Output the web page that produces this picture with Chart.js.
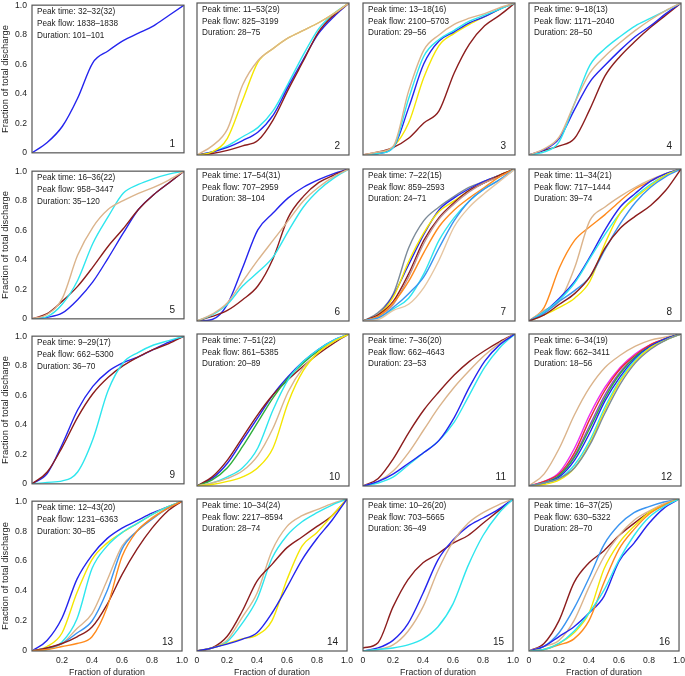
<!DOCTYPE html>
<html>
<head>
<meta charset="utf-8">
<script src="https://cdn.jsdelivr.net/npm/chart.js@4.4.0/dist/chart.umd.min.js"></script>
<style>
  body { margin: 0; background: #fff; width: 685px; height: 676px; position: relative; overflow: hidden; }
  canvas { position: absolute; }
</style>
</head>
<body>
<script>
// ===== 데이터 =====
const fracDuration = [0, 0.1, 0.2, 0.3, 0.4, 0.5, 0.6, 0.7, 0.8, 0.9, 1];
const axisTicks = [0, 0.2, 0.4, 0.6, 0.8, 1.0];

const peakTimes = ['32–32(32)', '11–53(29)', '13–18(16)', '9–18(13)', '16–36(22)', '17–54(31)', '7–22(15)', '11–34(21)',
                   '9–29(17)', '7–51(22)', '7–36(20)', '6–34(19)', '12–43(20)', '10–34(24)', '10–26(20)', '16–37(25)'];
const peakFlows = ['1838–1838', '825–3199', '2100–5703', '1171–2040', '958–3447', '707–2959', '859–2593', '717–1444',
                   '662–5300', '861–5385', '662–4643', '662–3411', '1231–6363', '2217–8594', '703–5665', '630–5322'];
const durations = ['101–101', '28–75', '29–56', '28–50', '35–120', '38–104', '24–71', '39–74',
                   '36–70', '20–89', '23–53', '18–56', '30–85', '28–74', '36–49', '28–70'];

const p1Values = [
    [0, 0.07, 0.18, 0.37, 0.61, 0.69, 0.76, 0.81, 0.86, 0.93, 1]
];
const p1Colors = ['blue'];

const p2Values = [
    [0, 0.06, 0.17, 0.46, 0.62, 0.70, 0.77, 0.82, 0.87, 0.93, 1],
    [0, 0.02, 0.11, 0.36, 0.61, 0.70, 0.77, 0.82, 0.87, 0.93, 1],
    [0, 0.01, 0.03, 0.06, 0.095, 0.23, 0.43, 0.62, 0.81, 0.92, 1],
    [0, 0.02, 0.05, 0.095, 0.15, 0.26, 0.45, 0.63, 0.80, 0.91, 1],
    [0, 0.02, 0.06, 0.12, 0.18, 0.29, 0.47, 0.66, 0.83, 0.93, 1]
];
const p2Colors = ['tan', 'yellow', 'brown', 'blue', 'cyan'];

const p3Values = [
    [0, 0.02, 0.06, 0.42, 0.69, 0.79, 0.86, 0.90, 0.93, 0.97, 1],
    [0, 0.01, 0.05, 0.37, 0.65, 0.76, 0.82, 0.88, 0.92, 0.96, 1],
    [0, 0.01, 0.05, 0.31, 0.60, 0.75, 0.81, 0.87, 0.91, 0.96, 1],
    [0, 0.01, 0.055, 0.21, 0.51, 0.72, 0.80, 0.86, 0.91, 0.96, 1],
    [0, 0.02, 0.05, 0.11, 0.21, 0.29, 0.54, 0.73, 0.85, 0.92, 1]
];
const p3Colors = ['tan', 'cyan', 'blue', 'yellow', 'brown'];

const p4Values = [
    [0, 0.04, 0.12, 0.34, 0.54, 0.65, 0.74, 0.82, 0.89, 0.95, 1],
    [0, 0.02, 0.09, 0.34, 0.59, 0.70, 0.78, 0.85, 0.90, 0.95, 1],
    [0, 0.035, 0.11, 0.30, 0.48, 0.59, 0.69, 0.78, 0.85, 0.93, 1],
    [0, 0.03, 0.06, 0.11, 0.30, 0.52, 0.65, 0.75, 0.84, 0.92, 1]
];
const p4Colors = ['tan', 'cyan', 'blue', 'brown'];

const p5Values = [
    [0, 0.03, 0.14, 0.43, 0.62, 0.74, 0.80, 0.85, 0.89, 0.94, 1],
    [0, 0.015, 0.10, 0.26, 0.51, 0.69, 0.85, 0.91, 0.95, 0.98, 1],
    [0, 0.035, 0.12, 0.22, 0.35, 0.49, 0.61, 0.74, 0.84, 0.92, 1],
    [0, 0.01, 0.04, 0.13, 0.25, 0.41, 0.58, 0.74, 0.84, 0.92, 1]
];
const p5Colors = ['tan', 'cyan', 'brown', 'blue'];

const p6Values = [
    [0, 0.045, 0.12, 0.26, 0.40, 0.53, 0.66, 0.79, 0.88, 0.95, 1],
    [0, 0.04, 0.11, 0.23, 0.32, 0.42, 0.59, 0.75, 0.86, 0.94, 1],
    [0, 0.03, 0.07, 0.14, 0.23, 0.41, 0.68, 0.82, 0.91, 0.96, 1],
    [0, 0.01, 0.11, 0.35, 0.60, 0.71, 0.81, 0.88, 0.93, 0.97, 1]
];
const p6Colors = ['tan', 'cyan', 'brown', 'blue'];

const p7Values = [
    [0, 0.01, 0.07, 0.11, 0.22, 0.40, 0.62, 0.75, 0.84, 0.92, 1],
    [0, 0.02, 0.09, 0.18, 0.29, 0.48, 0.66, 0.79, 0.87, 0.93, 1],
    [0, 0.02, 0.08, 0.15, 0.31, 0.53, 0.68, 0.79, 0.87, 0.93, 1],
    [0, 0.03, 0.12, 0.26, 0.45, 0.62, 0.73, 0.81, 0.88, 0.95, 1],
    [0, 0.03, 0.11, 0.29, 0.51, 0.67, 0.77, 0.85, 0.91, 0.95, 1],
    [0, 0.04, 0.13, 0.31, 0.53, 0.68, 0.78, 0.86, 0.91, 0.96, 1],
    [0, 0.04, 0.16, 0.39, 0.58, 0.72, 0.79, 0.86, 0.91, 0.96, 1],
    [0, 0.04, 0.17, 0.37, 0.57, 0.73, 0.81, 0.87, 0.92, 0.96, 1],
    [0, 0.055, 0.18, 0.48, 0.66, 0.75, 0.82, 0.88, 0.92, 0.96, 1]
];
const p7Colors = ['lightTan', 'dodger', 'cyan', 'orange', 'rosy', 'brown', 'yellow', 'blue', 'gray'];

const p8Values = [
    [0, 0.04, 0.11, 0.18, 0.29, 0.48, 0.61, 0.69, 0.76, 0.86, 1],
    [0, 0.05, 0.13, 0.20, 0.29, 0.47, 0.64, 0.78, 0.88, 0.95, 1],
    [0, 0.04, 0.09, 0.15, 0.26, 0.51, 0.71, 0.81, 0.89, 0.96, 1],
    [0, 0.06, 0.14, 0.25, 0.41, 0.57, 0.71, 0.82, 0.90, 0.96, 1],
    [0, 0.06, 0.15, 0.26, 0.42, 0.60, 0.75, 0.84, 0.92, 0.97, 1],
    [0, 0.07, 0.13, 0.35, 0.66, 0.75, 0.82, 0.88, 0.93, 0.97, 1],
    [0, 0.09, 0.35, 0.53, 0.62, 0.70, 0.79, 0.87, 0.92, 0.97, 1]
];
const p8Colors = ['brown', 'dodger', 'yellow', 'cyan', 'blue', 'tan', 'orange'];

const p9Values = [
    [0, 0.01, 0.02, 0.08, 0.30, 0.63, 0.82, 0.89, 0.94, 0.97, 1],
    [0, 0.08, 0.25, 0.45, 0.61, 0.72, 0.80, 0.86, 0.91, 0.95, 1],
    [0, 0.07, 0.27, 0.50, 0.66, 0.76, 0.82, 0.86, 0.91, 0.96, 1]
];
const p9Colors = ['cyan', 'brown', 'blue'];

const p10Values = [
    [0, 0.01, 0.03, 0.06, 0.12, 0.25, 0.55, 0.76, 0.88, 0.95, 1],
    [0, 0.02, 0.05, 0.10, 0.20, 0.38, 0.62, 0.78, 0.88, 0.95, 1],
    [0, 0.02, 0.06, 0.12, 0.25, 0.50, 0.70, 0.82, 0.90, 0.96, 1],
    [0, 0.04, 0.12, 0.26, 0.42, 0.58, 0.71, 0.81, 0.89, 0.95, 1],
    [0, 0.06, 0.17, 0.32, 0.47, 0.60, 0.70, 0.79, 0.87, 0.94, 1],
    [0, 0.05, 0.15, 0.30, 0.45, 0.60, 0.72, 0.82, 0.90, 0.96, 1]
];
const p10Colors = ['yellow', 'tan', 'cyan', 'green', 'brown', 'blue'];

const p11Values = [
    [0, 0.03, 0.08, 0.15, 0.22, 0.30, 0.45, 0.65, 0.82, 0.93, 1],
    [0, 0.02, 0.06, 0.14, 0.22, 0.30, 0.42, 0.60, 0.78, 0.91, 1],
    [0, 0.03, 0.10, 0.22, 0.37, 0.52, 0.65, 0.76, 0.86, 0.94, 1],
    [0, 0.05, 0.18, 0.35, 0.50, 0.62, 0.73, 0.82, 0.89, 0.95, 1]
];
const p11Colors = ['blue', 'cyan', 'tan', 'brown'];

const p12Values = [
    [0, 0.02, 0.05, 0.12, 0.27, 0.48, 0.67, 0.81, 0.90, 0.96, 1],
    [0, 0.01, 0.04, 0.12, 0.28, 0.50, 0.69, 0.82, 0.91, 0.96, 1],
    [0, 0.02, 0.05, 0.14, 0.30, 0.52, 0.70, 0.83, 0.91, 0.96, 1],
    [0, 0.02, 0.06, 0.17, 0.35, 0.56, 0.72, 0.84, 0.92, 0.97, 1],
    [0, 0.02, 0.07, 0.19, 0.38, 0.58, 0.74, 0.85, 0.92, 0.97, 1],
    [0, 0.02, 0.07, 0.20, 0.40, 0.60, 0.75, 0.85, 0.92, 0.97, 1],
    [0, 0.03, 0.08, 0.22, 0.44, 0.63, 0.77, 0.86, 0.93, 0.97, 1],
    [0, 0.03, 0.09, 0.25, 0.47, 0.65, 0.78, 0.87, 0.93, 0.97, 1],
    [0, 0.08, 0.25, 0.47, 0.65, 0.78, 0.86, 0.92, 0.96, 0.98, 1]
];
const p12Colors = ['gray', 'yellow', 'cyan', 'blue', 'green', 'purple', 'red', 'magenta', 'tan'];

const p13Values = [
    [0, 0.01, 0.03, 0.05, 0.095, 0.29, 0.63, 0.80, 0.885, 0.95, 1],
    [0, 0.02, 0.05, 0.095, 0.16, 0.31, 0.51, 0.68, 0.82, 0.93, 1],
    [0, 0.02, 0.05, 0.12, 0.20, 0.40, 0.68, 0.80, 0.88, 0.95, 1],
    [0, 0.02, 0.05, 0.15, 0.25, 0.47, 0.70, 0.80, 0.89, 0.95, 1],
    [0, 0.01, 0.06, 0.215, 0.55, 0.70, 0.79, 0.85, 0.91, 0.96, 1],
    [0, 0.03, 0.12, 0.39, 0.61, 0.72, 0.79, 0.85, 0.91, 0.96, 1],
    [0, 0.07, 0.22, 0.48, 0.64, 0.75, 0.82, 0.87, 0.92, 0.96, 1]
];
const p13Colors = ['orange', 'brown', 'dodger', 'tan', 'cyan', 'yellow', 'blue'];

const p14Values = [
    [0, 0.02, 0.045, 0.077, 0.12, 0.25, 0.42, 0.60, 0.74, 0.86, 1],
    [0, 0.02, 0.05, 0.08, 0.105, 0.20, 0.47, 0.69, 0.78, 0.89, 1],
    [0, 0.02, 0.095, 0.26, 0.46, 0.57, 0.68, 0.75, 0.82, 0.89, 1],
    [0, 0.02, 0.06, 0.18, 0.34, 0.61, 0.76, 0.85, 0.91, 0.96, 1],
    [0, 0.02, 0.07, 0.22, 0.38, 0.66, 0.82, 0.89, 0.93, 0.97, 1]
];
const p14Colors = ['blue', 'yellow', 'brown', 'cyan', 'tan'];

const p15Values = [
    [0, 0.01, 0.02, 0.04, 0.08, 0.16, 0.31, 0.56, 0.76, 0.90, 1],
    [0, 0.01, 0.04, 0.13, 0.29, 0.53, 0.72, 0.84, 0.91, 0.96, 1],
    [0, 0.02, 0.07, 0.18, 0.38, 0.60, 0.73, 0.82, 0.875, 0.93, 1],
    [0.02, 0.055, 0.29, 0.47, 0.58, 0.64, 0.71, 0.76, 0.84, 0.92, 1]
];
const p15Colors = ['cyan', 'tan', 'blue', 'brown'];

const p16Values = [
    [0, 0.01, 0.05, 0.13, 0.25, 0.40, 0.60, 0.76, 0.88, 0.95, 1],
    [0, 0.01, 0.04, 0.08, 0.20, 0.45, 0.67, 0.80, 0.90, 0.96, 1],
    [0, 0.01, 0.05, 0.12, 0.25, 0.54, 0.71, 0.82, 0.91, 0.96, 1],
    [0, 0.03, 0.095, 0.16, 0.25, 0.36, 0.59, 0.71, 0.84, 0.94, 1],
    [0, 0.03, 0.07, 0.20, 0.42, 0.62, 0.76, 0.86, 0.92, 0.97, 1],
    [0, 0.03, 0.12, 0.28, 0.48, 0.70, 0.83, 0.91, 0.95, 0.98, 1],
    [0, 0.05, 0.20, 0.45, 0.58, 0.66, 0.76, 0.84, 0.91, 0.96, 1]
];
const p16Colors = ['cyan', 'orange', 'yellow', 'blue', 'tan', 'dodger', 'brown'];

// ===== 스타일 =====
const COLORS = {
    blue: '#2424ee', cyan: '#2ee6ee', yellow: '#f4e600', tan: '#dbb48c', brown: '#8c1d1d',
    orange: '#ff8a1c', dodger: '#3a94f0', gray: '#7b8a98', rosy: '#c09090', green: '#2eae3a',
    magenta: '#ee2aee', red: '#e62e2e', purple: '#9440c8', lightTan: '#e6c6a2'
};
const FONT = '"Liberation Sans", Arial, sans-serif';

const COL_X = [32, 197, 363, 529];
const ROW_Y = [3, 169, 334, 499];
const PW = 152, PH = 152;
const AXIS_L = 32, PAD = 8, X_AXIS_H = 28;

const panels = [
    [p1Values, p1Colors], [p2Values, p2Colors], [p3Values, p3Colors], [p4Values, p4Colors],
    [p5Values, p5Colors], [p6Values, p6Colors], [p7Values, p7Colors], [p8Values, p8Colors],
    [p9Values, p9Colors], [p10Values, p10Colors], [p11Values, p11Colors], [p12Values, p12Colors],
    [p13Values, p13Colors], [p14Values, p14Colors], [p15Values, p15Colors], [p16Values, p16Colors]
];

function fmtTick(v) {
    return Math.abs(v) < 1e-9 ? '0' : v.toFixed(1);
}

// 패널 테두리 + 주석 텍스트
const panelDeco = {
    id: 'panelDeco',
    afterDatasetsDraw(chart, args, opts) {
        const a = chart.chartArea, ctx = chart.ctx;
        ctx.save();
        ctx.strokeStyle = '#555';
        ctx.lineWidth = 1.2;
        ctx.strokeRect(a.left, a.top, a.right - a.left, a.bottom - a.top);
        ctx.fillStyle = '#222';
        ctx.textBaseline = 'middle';
        ctx.textAlign = 'left';
        ctx.font = '8.2px ' + FONT;
        opts.lines.forEach(function (t, i) { ctx.fillText(t, a.left + 5, a.top + 7 + i * 11.6); });
        ctx.font = '10px ' + FONT;
        ctx.textAlign = 'right';
        ctx.fillText(opts.num, a.right - 9, a.bottom - 9);
        ctx.restore();
    }
};

panels.forEach(function (p, idx) {
    const values = p[0], colors = p[1];
    const col = idx % 4, row = Math.floor(idx / 4);
    const isBottom = row === 3, isLeft = col === 0;

    const canvas = document.createElement('canvas');
    canvas.width = AXIS_L + PW + PAD;
    canvas.height = PAD + PH + (isBottom ? X_AXIS_H : PAD);
    canvas.style.left = (COL_X[col] - AXIS_L) + 'px';
    canvas.style.top = (ROW_Y[row] - PAD) + 'px';
    document.body.appendChild(canvas);

    const datasets = values.map(function (ys, k) {
        return {
            data: ys.map(function (y, i) { return { x: fracDuration[i], y: y }; }),
            borderColor: COLORS[colors[k]],
            borderWidth: 1.4,
            pointRadius: 0,
            fill: false,
            cubicInterpolationMode: 'monotone'
        };
    });

    new Chart(canvas, {
        type: 'line',
        data: { datasets: datasets },
        options: {
            responsive: false,
            animation: false,
            devicePixelRatio: 1,
            layout: { padding: { top: PAD, right: PAD, bottom: isBottom ? 0 : PAD, left: 0 } },
            plugins: {
                legend: { display: false },
                tooltip: { enabled: false },
                panelDeco: {
                    lines: ['Peak time: ' + peakTimes[idx], 'Peak flow: ' + peakFlows[idx], 'Duration: ' + durations[idx]],
                    num: String(idx + 1)
                }
            },
            scales: {
                x: {
                    type: 'linear', min: 0, max: 1,
                    display: isBottom,
                    grid: { display: false, drawTicks: false },
                    border: { display: false },
                    afterBuildTicks: function (s) { s.ticks = axisTicks.map(function (v) { return { value: v }; }); },
                    ticks: {
                        autoSkip: false, maxRotation: 0, padding: 4, color: '#222',
                        font: { family: FONT, size: 8.6 },
                        callback: function (v) { return (isLeft && v === 0) ? '' : fmtTick(v); }
                    },
                    title: { display: true, text: 'Fraction of duration', color: '#222',
                             font: { family: FONT, size: 8.8 }, padding: { top: 0, bottom: 1 } },
                    afterFit: function (s) { s.height = isBottom ? X_AXIS_H : 0; }
                },
                y: {
                    type: 'linear', min: 0, max: 1,
                    grid: { display: false, drawTicks: false },
                    border: { display: false },
                    afterBuildTicks: function (s) { s.ticks = axisTicks.map(function (v) { return { value: v }; }); },
                    ticks: {
                        display: isLeft, padding: 5, color: '#222',
                        font: { family: FONT, size: 8.6 },
                        callback: function (v) { return fmtTick(v); }
                    },
                    title: { display: isLeft, text: 'Fraction of total discharge', color: '#222',
                             font: { family: FONT, size: 9.4 }, padding: { top: 0, bottom: 0 } },
                    afterFit: function (s) { s.width = AXIS_L; }
                }
            }
        },
        plugins: [panelDeco]
    });
});
</script>
</body>
</html>
